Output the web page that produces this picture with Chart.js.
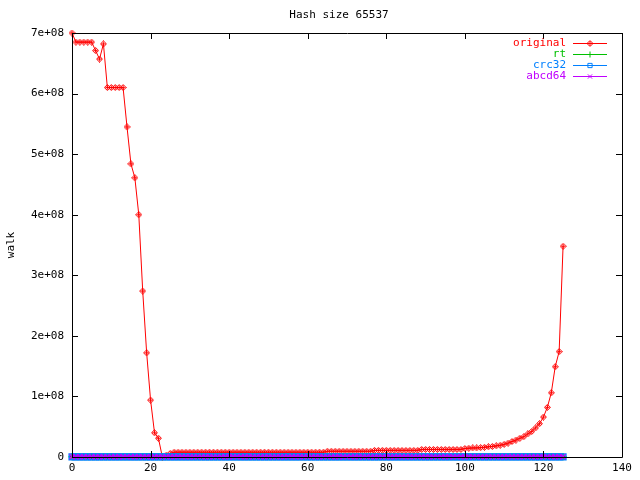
<!DOCTYPE html>
<html>
<head>
<meta charset="utf-8">
<script src="https://cdn.jsdelivr.net/npm/chart.js@4"></script>
<style>
  html, body { margin: 0; padding: 0; background: #fff; }
  #wrap { width: 640px; height: 480px; }
</style>
</head>
<body>
<div id="wrap"><canvas id="chart" width="640" height="480"></canvas></div>
<script>
// values in millions (walk), index = position along x
const original = [
  700, 685, 685, 685, 685, 685, 671, 657, 682, 610,
  610, 610, 610, 610, 545, 484, 461, 400, 274, 172,
  94, 40, 31, 0, 3, 6, 8, 8, 8, 8,
  8, 8, 8, 8, 8, 8, 8, 8, 8, 8,
  8, 8, 8, 8, 8, 8, 8, 8, 8, 8,
  8, 8, 8, 8, 8, 8, 8, 8, 8, 8,
  8, 8, 8, 8, 8, 9.5, 9.5, 9.5, 9.5, 9.5,
  9.5, 9.5, 9.5, 9.5, 9.5, 9.5, 9.5, 11, 11, 11,
  11, 11, 11, 11, 11, 11, 11, 11, 11, 12.5,
  12.5, 12.5, 12.5, 12.5, 12.5, 12.5, 12.5, 12.5, 12.5, 12.5,
  14, 14.5, 15, 15, 15.5, 16, 17, 17.5, 18.5, 19.5,
  21, 23, 25.5, 28, 31, 33.5, 38, 42, 48, 55,
  66, 82, 106, 149, 174, 348
];
const rt = [
  0.4, 0.4, 0.4, 0.4, 0.4, 0.4, 0.4, 0.4, 0.4, 0.4,
  0.4, 0.4, 0.4, 0.4, 0.4, 0.4, 0.4, 0.4, 0.4, 0.4,
  0.4, 0.4, 0.4, 0.4, 0.4, 0.4, 0.4, 0.4, 0.4, 0.4,
  0.4, 0.4, 0.4, 0.4, 0.4, 0.4, 0.4, 0.4, 0.4, 0.4,
  0.4, 0.4, 0.4, 0.4, 0.4, 0.4, 0.4, 0.4, 0.4, 0.4,
  0.4, 0.4, 0.4, 0.4, 0.4, 0.4, 0.4, 0.4, 0.4, 0.4,
  0.4, 0.4, 0.4, 0.4, 0.4, 0.4, 0.4, 0.4, 0.4, 0.4,
  0.4, 0.4, 0.4, 0.4, 0.4, 0.4, 0.4, 0.4, 0.4, 0.4,
  0.4, 0.4, 0.4, 0.4, 0.4, 0.4, 0.4, 0.4, 0.4, 0.4,
  0.4, 0.4, 0.4, 0.4, 0.4, 0.4, 0.4, 0.4, 0.4, 0.4,
  0.4, 0.4, 0.4, 0.4, 0.4, 0.4, 0.4, 0.4, 0.4, 0.4,
  0.4, 0.4, 0.4, 0.4, 0.4, 0.4, 0.4, 0.4, 0.4, 0.4,
  0.4, 0.4, 0.4, 0.4, 0.4, 0.4
];
const crc32 = [
  0.3, 0.3, 0.3, 0.3, 0.3, 0.3, 0.3, 0.3, 0.3, 0.3,
  0.3, 0.3, 0.3, 0.3, 0.3, 0.3, 0.3, 0.3, 0.3, 0.3,
  0.3, 0.3, 0.3, 0.3, 0.3, 0.3, 0.3, 0.3, 0.3, 0.3,
  0.3, 0.3, 0.3, 0.3, 0.3, 0.3, 0.3, 0.3, 0.3, 0.3,
  0.3, 0.3, 0.3, 0.3, 0.3, 0.3, 0.3, 0.3, 0.3, 0.3,
  0.3, 0.3, 0.3, 0.3, 0.3, 0.3, 0.3, 0.3, 0.3, 0.3,
  0.3, 0.3, 0.3, 0.3, 0.3, 0.3, 0.3, 0.3, 0.3, 0.3,
  0.3, 0.3, 0.3, 0.3, 0.3, 0.3, 0.3, 0.3, 0.3, 0.3,
  0.3, 0.3, 0.3, 0.3, 0.3, 0.3, 0.3, 0.3, 0.3, 0.3,
  0.3, 0.3, 0.3, 0.3, 0.3, 0.3, 0.3, 0.3, 0.3, 0.3,
  0.3, 0.3, 0.3, 0.3, 0.3, 0.3, 0.3, 0.3, 0.3, 0.3,
  0.3, 0.3, 0.3, 0.3, 0.3, 0.3, 0.3, 0.3, 0.3, 0.3,
  0.3, 0.3, 0.3, 0.3, 0.3, 0.3
];
const abcd64 = [
  0.35, 0.35, 0.35, 0.35, 0.35, 0.35, 0.35, 0.35, 0.35, 0.35,
  0.35, 0.35, 0.35, 0.35, 0.35, 0.35, 0.35, 0.35, 0.35, 0.35,
  0.35, 0.35, 0.35, 0.35, 0.35, 0.35, 0.35, 0.35, 0.35, 0.35,
  0.35, 0.35, 0.35, 0.35, 0.35, 0.35, 0.35, 0.35, 0.35, 0.35,
  0.35, 0.35, 0.35, 0.35, 0.35, 0.35, 0.35, 0.35, 0.35, 0.35,
  0.35, 0.35, 0.35, 0.35, 0.35, 0.35, 0.35, 0.35, 0.35, 0.35,
  0.35, 0.35, 0.35, 0.35, 0.35, 0.35, 0.35, 0.35, 0.35, 0.35,
  0.35, 0.35, 0.35, 0.35, 0.35, 0.35, 0.35, 0.35, 0.35, 0.35,
  0.35, 0.35, 0.35, 0.35, 0.35, 0.35, 0.35, 0.35, 0.35, 0.35,
  0.35, 0.35, 0.35, 0.35, 0.35, 0.35, 0.35, 0.35, 0.35, 0.35,
  0.35, 0.35, 0.35, 0.35, 0.35, 0.35, 0.35, 0.35, 0.35, 0.35,
  0.35, 0.35, 0.35, 0.35, 0.35, 0.35, 0.35, 0.35, 0.35, 0.35,
  0.35, 0.35, 0.35, 0.35, 0.35, 0.35
];
const seriesNames = ["original", "rt", "crc32", "abcd64"];
const xTicks = [0, 20, 40, 60, 80, 100, 120, 140];
const yTicks = [0, 1e8, 2e8, 3e8, 4e8, 5e8, 6e8, 7e8];
const titleText = "Hash size 65537";
const yLabel = "walk";

const FONT = "11px 'DejaVu Sans Mono', monospace";
const colors = ["#ff0000", "#00c000", "#0080ff", "#c000ff"];

// small diamond with a plus inside, like gnuplot's point type 1
function diamondPlus(color) {
  const c = document.createElement("canvas");
  c.width = 7; c.height = 7;
  const g = c.getContext("2d");
  g.strokeStyle = color;
  g.lineWidth = 1;
  g.beginPath();
  g.moveTo(3.5, 0.5); g.lineTo(6.5, 3.5); g.lineTo(3.5, 6.5); g.lineTo(0.5, 3.5); g.closePath();
  g.moveTo(1.5, 3.5); g.lineTo(5.5, 3.5);
  g.moveTo(3.5, 1.5); g.lineTo(3.5, 5.5);
  g.stroke();
  return c;
}

const styles = [diamondPlus(colors[0]), "cross", "rect", "crossRot"];
const radii = [3, 3.5, 4, 3.5];
const markWidths = [1, 1.5, 1.5, 1.5];
const lists = [original, rt, crc32, abcd64];

function toPoints(list) {
  return list.map((v, i) => ({ x: i, y: v * 1e6 }));
}

const datasets = lists.map((list, k) => ({
  label: seriesNames[k],
  data: toPoints(list),
  borderColor: colors[k],
  backgroundColor: "rgba(0,0,0,0)",
  borderWidth: 1,
  pointStyle: styles[k],
  pointRadius: radii[k],
  pointBorderWidth: markWidths[k],
  pointBorderColor: colors[k],
  pointBackgroundColor: "rgba(0,0,0,0)",
  tension: 0,
  clip: false,
  order: 4 - k
}));

const frame = {
  id: "frame",
  afterDraw(chart) {
    const ctx = chart.ctx;
    const a = chart.chartArea;
    const xs = chart.scales.x, ys = chart.scales.y;
    ctx.save();
    ctx.strokeStyle = "#000";
    ctx.lineWidth = 1;
    ctx.beginPath();
    ctx.rect(Math.round(a.left) + 0.5, Math.round(a.top) + 0.5,
             Math.round(a.right - a.left), Math.round(a.bottom - a.top));
    xTicks.forEach(t => {
      const px = Math.round(xs.getPixelForValue(t)) + 0.5;
      ctx.moveTo(px, a.bottom); ctx.lineTo(px, a.bottom - 6);
      ctx.moveTo(px, a.top); ctx.lineTo(px, a.top + 6);
    });
    yTicks.forEach(t => {
      const py = Math.round(ys.getPixelForValue(t)) + 0.5;
      ctx.moveTo(a.left, py); ctx.lineTo(a.left + 6, py);
      ctx.moveTo(a.right, py); ctx.lineTo(a.right - 6, py);
    });
    ctx.stroke();

    // title and axis label
    ctx.fillStyle = "#000";
    ctx.font = FONT;
    ctx.textAlign = "center";
    ctx.textBaseline = "middle";
    ctx.fillText(titleText, 339, 15);
    ctx.translate(11, 245);
    ctx.rotate(-Math.PI / 2);
    ctx.fillText(yLabel, 0, 0);
    ctx.setTransform(1, 0, 0, 1, 0, 0);

    // legend: text right-aligned, sample line with marker on the right
    ctx.textAlign = "right";
    seriesNames.forEach((name, k) => {
      const y = 43 + k * 11;
      ctx.fillStyle = colors[k];
      ctx.fillText(name, 566, y);
      ctx.strokeStyle = colors[k];
      ctx.lineWidth = 1;
      ctx.beginPath();
      ctx.moveTo(573, y + 0.5); ctx.lineTo(607, y + 0.5);
      ctx.stroke();
      ctx.fillStyle = "rgba(0,0,0,0)";
      Chart.helpers.drawPoint(ctx, { pointStyle: styles[k], radius: 3, borderWidth: 1, rotation: 0 }, 590, y + 0.5);
    });
    ctx.restore();
  }
};

new Chart(document.getElementById("chart"), {
  type: "line",
  data: { datasets: datasets },
  options: {
    responsive: false,
    animation: false,
    layout: { padding: { left: 0, right: 18, top: 33, bottom: 0 } },
    plugins: { legend: { display: false }, title: { display: false }, tooltip: { enabled: false } },
    scales: {
      x: {
        type: "linear",
        min: 0, max: 140,
        afterFit(s) { s.height = 23; },
        afterBuildTicks(s) { s.ticks = xTicks.map(v => ({ value: v })); },
        grid: { display: false, drawTicks: false },
        border: { display: false },
        ticks: { color: "#000", font: { family: "'DejaVu Sans Mono', monospace", size: 11 }, padding: 5, maxRotation: 0 }
      },
      y: {
        type: "linear",
        min: 0, max: 7e8,
        afterFit(s) { s.width = 72; },
        afterBuildTicks(s) { s.ticks = yTicks.map(v => ({ value: v })); },
        grid: { display: false, drawTicks: false },
        border: { display: false },
        ticks: {
          color: "#000",
          font: { family: "'DejaVu Sans Mono', monospace", size: 11 },
          padding: 8,
          callback: v => v === 0 ? "0" : (v / 1e8) + "e+08"
        }
      }
    }
  },
  plugins: [frame]
});
</script>
</body>
</html>
